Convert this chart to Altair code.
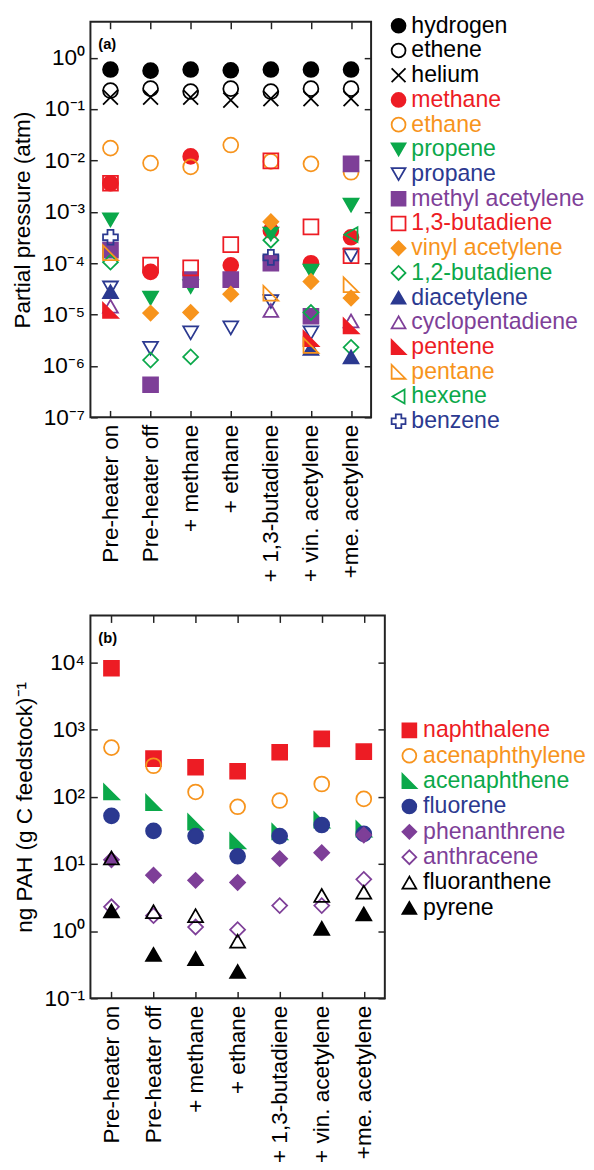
import altair as alt
import pandas as pd

FONT = "Liberation Sans"

categories = ["Pre-heater on", "Pre-heater off", "+ methane", "+ ethane",
              "+ 1,3-butadiene", "+ vin. acetylene", "+me. acetylene"]

ticks_a = [1e-7, 1e-6, 1e-5, 1e-4, 1e-3, 1e-2, 1e-1, 1]
ticks_b = [1e-1, 1, 10, 100, 1000, 10000]

# ---- panel (a): partial pressures (atm) ----
hydrogen = [0.59, 0.56, 0.59, 0.57, 0.59, 0.59, 0.59]
ethene = [0.23, 0.25, 0.22, 0.25, 0.22, 0.25, 0.25]
helium = [0.17, 0.17, 0.17, 0.15, 0.16, 0.16, 0.16]
methane = [3.6e-3, 6.8e-5, 1.2e-2, 9.1e-5, 4.3e-4, 1.0e-4, 3.2e-4]
ethane = [1.74e-2, 8.9e-3, 7.5e-3, 2.0e-2, 9.6e-3, 8.6e-3, 5.9e-3]
propene = [7.0e-4, 2.1e-5, 3.5e-5, None, 3.7e-4, 7.0e-5, 1.35e-3]
propane = [3.3e-5, 2.2e-6, 4.4e-6, 5.5e-6, 1.8e-5, 4.4e-6, 1.4e-4]
methyl_acetylene = [1.8e-4, 4.3e-7, 4.8e-5, 4.8e-5, 1.0e-4, 9.3e-6, 8.6e-3]
butadiene_13 = [3.6e-3, 9.2e-5, 8.1e-5, 2.3e-4, 9.8e-3, 5.1e-4, 1.4e-4]
vinyl_acetylene = [None, 1.07e-5, 1.1e-5, 2.5e-5, 6.4e-4, 4.4e-5, 2.1e-5]
butadiene_12 = [1.05e-4, 1.3e-6, 1.5e-6, None, 2.8e-4, 1.1e-5, 2.3e-6]
diacetylene = [2.8e-5, None, None, None, None, 2.2e-6, 1.5e-6]
cyclopentadiene = [1.45e-5, None, None, None, 1.2e-5, None, 7.5e-6]
pentene = [1.2e-5, None, None, None, None, 3.4e-6, 6.0e-6]
pentane = [1.6e-4, None, None, None, 2.6e-5, 2.5e-6, 3.8e-5]
hexene = [None, None, None, None, None, None, 3.6e-4]
benzene = [3.2e-4, None, None, None, 1.3e-4, None, None]

names_a = ["hydrogen", "ethene", "helium", "methane", "ethane", "propene", "propane",
           "methyl acetylene", "1,3-butadiene", "vinyl acetylene", "1,2-butadiene",
           "diacetylene", "cyclopentadiene", "pentene", "pentane", "hexene", "benzene"]
series_a = [hydrogen, ethene, helium, methane, ethane, propene, propane,
            methyl_acetylene, butadiene_13, vinyl_acetylene, butadiene_12,
            diacetylene, cyclopentadiene, pentene, pentane, hexene, benzene]

# ---- panel (b): PAH yields ----
naphthalene = [8200, 370, 275, 240, 460, 730, 470]
acenaphthylene = [540, 290, 118, 71, 88, 155, 93]
acenaphthene = [118, 82, 42, 22, 30, 45, 33]
fluorene = [52, 31, 26, 13, 26, 38, 28]
phenanthrene = [11.5, 6.8, 5.7, 5.3, 12, 14.7, 27]
anthracene = [2.3, 1.7, 1.15, 1.05, 2.4, 2.4, 5.9]
fluoranthene = [12.3, 1.95, 1.7, 0.71, None, 3.4, 3.8]
pyrene = [2.0, 0.45, 0.39, 0.25, None, 1.1, 1.8]

names_b = ["naphthalene", "acenaphthylene", "acenaphthene", "fluorene",
           "phenanthrene", "anthracene", "fluoranthene", "pyrene"]
series_b = [naphthalene, acenaphthylene, acenaphthene, fluorene,
            phenanthrene, anthracene, fluoranthene, pyrene]

# ---- styles ----
BLACK, RED, ORANGE, GREEN, BLUE, PURPLE = "#000000", "#ED1C24", "#F7941D", "#0BA84A", "#2B3990", "#7E3F98"
XSHAPE = "M-1,-1L1,1M-1,1L1,-1"
RTRI = "M-1,-1L-1,1L1,1Z"

shapes_a = ["circle", "circle", XSHAPE, "circle", "circle", "triangle-down", "triangle-down",
            "square", "square", "diamond", "diamond", "triangle-up", "triangle-up",
            RTRI, RTRI, "triangle-left", "cross"]
colors_a = [BLACK, BLACK, BLACK, RED, ORANGE, GREEN, BLUE, PURPLE, RED, ORANGE, GREEN,
            BLUE, PURPLE, RED, ORANGE, GREEN, BLUE]
filled_a = [True, False, False, True, False, True, False, True, False, True, False,
            True, False, True, False, False, False]

shapes_b = ["square", "circle", RTRI, "circle", "diamond", "diamond", "triangle-up", "triangle-up"]
colors_b = [RED, ORANGE, GREEN, BLUE, PURPLE, PURPLE, BLACK, BLACK]
filled_b = [True, False, True, True, True, False, False, True]


def long_df(names, series):
    rows = []
    for k, (n, vals) in enumerate(zip(names, series)):
        for c, v in zip(categories, vals):
            if v is not None:
                rows.append({"species": n, "cat": c, "val": v, "k": k})
    return pd.DataFrame(rows)


EXP = "round(log(datum.value)/LN10)"
LABEL_EXPR = ("'10' + (" + EXP + " < 0 ? '\u207b' : '') + substring('\u2070\u00b9\u00b2\u00b3\u2074\u2075\u2076\u2077\u2078\u2079', abs("
              + EXP + "), abs(" + EXP + ") + 1)")


def style_encodings(names, shapes, colors, filled):
    fills = [c if f else "transparent" for c, f in zip(colors, filled)]
    return dict(
        shape=alt.Shape("species:N", scale=alt.Scale(domain=names, range=shapes), legend=None),
        stroke=alt.Stroke("species:N", scale=alt.Scale(domain=names, range=colors), legend=None),
        fill=alt.Fill("species:N", scale=alt.Scale(domain=names, range=fills), legend=None),
    )


def panel(df, names, shapes, colors, filled, ydomain, yticks, ytitle, w, h, tag):
    def xe(axis):
        return alt.X("cat:N", sort=categories, title=None,
                     scale=alt.Scale(domain=categories, padding=0.5), axis=axis)

    def ye(axis):
        return alt.Y("val:Q", scale=alt.Scale(type="log", domain=ydomain), axis=axis)

    base = alt.Chart(df)
    pts = base.mark_point(size=230, strokeWidth=1.8, opacity=1).encode(
        x=xe(alt.Axis(orient="bottom", labelAngle=-90, labelFontSize=23, ticks=False, tickSize=0,
                      domain=False, grid=False, labelPadding=7, labelColor="black")),
        y=ye(alt.Axis(orient="left", values=yticks, labelExpr=LABEL_EXPR, ticks=False, tickSize=0,
                      domain=False, grid=False, labelFontSize=23, labelPadding=6, labelColor="black",
                      title=ytitle, titleFontSize=23, titleFontWeight="normal", titlePadding=8,
                      titleColor="black")),
        order=alt.Order("k:Q"),
        **style_encodings(names, shapes, colors, filled),
    )
    tick_axis = dict(labels=False, ticks=True, tickSize=7, tickWidth=1.5, tickColor="#222",
                     domain=False, grid=False, title=None, offset=-7)
    t1 = base.mark_point(opacity=0).encode(
        x=xe(alt.Axis(orient="top", **tick_axis)),
        y=ye(alt.Axis(orient="right", values=yticks, **tick_axis)),
    )
    t2 = base.mark_point(opacity=0).encode(
        x=xe(alt.Axis(orient="bottom", **tick_axis)),
        y=ye(alt.Axis(orient="left", values=yticks, **tick_axis)),
    )
    lab = alt.Chart(pd.DataFrame({"t": [tag]})).mark_text(
        fontSize=15, fontWeight="bold", align="left", baseline="middle", color="black", font=FONT
    ).encode(text="t:N", x=alt.value(8), y=alt.value(23))
    return alt.layer(pts, t1, t2, lab).resolve_axis(x="independent", y="independent").properties(
        width=w, height=h, view=alt.ViewBackground(stroke="#222", strokeWidth=2))


def legend(names, shapes, colors, filled, h, yrange, mx, tx):
    ldf = pd.DataFrame({"species": names})
    y = alt.Y("species:N", sort=names, axis=None,
              scale=alt.Scale(domain=names, range=yrange, padding=0))
    pts = alt.Chart(ldf).mark_point(size=200, strokeWidth=1.8, opacity=1).encode(
        x=alt.value(mx), y=y, **style_encodings(names, shapes, colors, filled))
    txt = alt.Chart(ldf).mark_text(align="left", baseline="middle", fontSize=23.5, font=FONT).encode(
        x=alt.value(tx), y=y, text="species:N",
        color=alt.Color("species:N", scale=alt.Scale(domain=names, range=colors), legend=None))
    return alt.layer(pts, txt).properties(width=170, height=h,
                                          view=alt.ViewBackground(strokeWidth=0))


df_a = long_df(names_a, series_a)
df_b = long_df(names_b, series_b)

pa = panel(df_a, names_a, shapes_a, colors_a, filled_a, [1e-7, 5], ticks_a,
           "Partial pressure (atm)", 286, 403, "(a)")
pb = panel(df_b, names_b, shapes_b, colors_b, filled_b, [0.1, 5e4], ticks_b,
           "ng PAH (g C feedstock)\u207b\u00b9", 300, 390, "(b)")

la = legend(names_a, shapes_a, colors_a, filled_a, 403, [4, 407], 16, 29)
lb = legend(names_b, shapes_b, colors_b, filled_b, 390, [117, 298], 13, 27)

indep = dict(shape="independent", stroke="independent", fill="independent", color="independent")
row_a = alt.hconcat(pa, la, spacing=10).resolve_scale(**indep)
row_b = alt.hconcat(pb, lb, spacing=10).resolve_scale(**indep)

chart = alt.vconcat(row_a, row_b, spacing=31).resolve_scale(**indep).properties(
    padding={"left": 2, "top": -5, "right": 0, "bottom": 0}
).configure_view(strokeWidth=0).configure_axis(labelFont=FONT, titleFont=FONT).configure_text(font=FONT)

chart.save("out.html", embed_options={"renderer": "svg", "actions": False})
